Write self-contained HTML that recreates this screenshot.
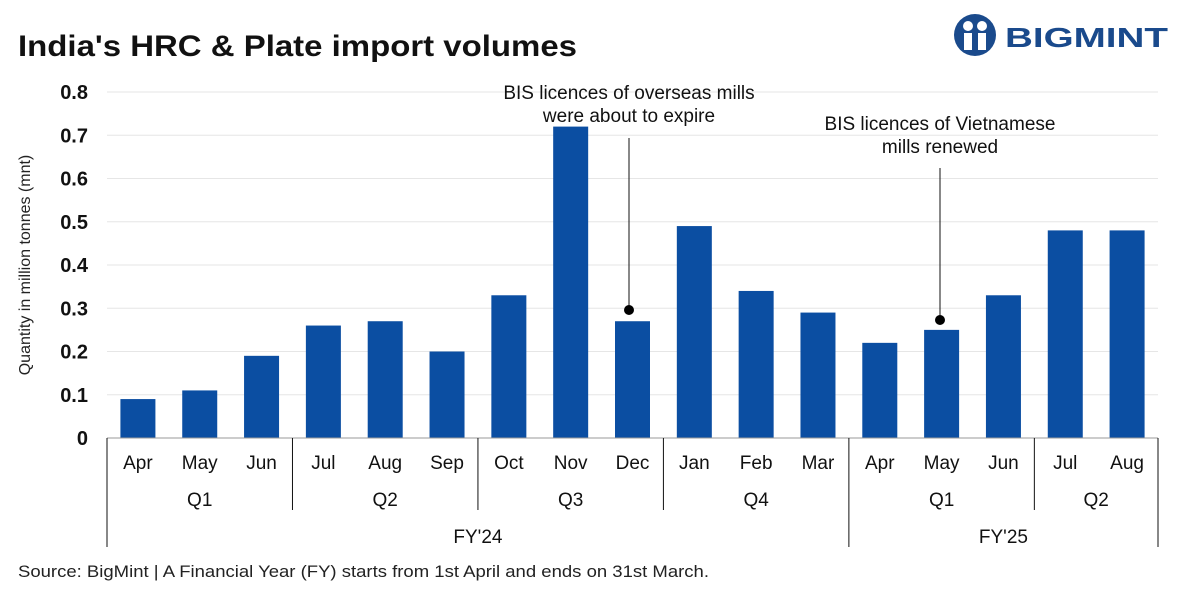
<!DOCTYPE html>
<html><head><meta charset="utf-8"><style>
html,body{margin:0;padding:0;background:#fff;}
svg{display:block;font-family:"Liberation Sans",sans-serif;}
</style></head><body>
<svg id="c" width="1181" height="591" viewBox="0 0 1181 591">
<text x="18" y="56" font-size="30" font-weight="bold" fill="#111" textLength="559" lengthAdjust="spacingAndGlyphs">India's HRC &amp; Plate import volumes</text>
<g>
<circle cx="975" cy="35" r="21" fill="#1a4a8c"/>
<circle cx="968" cy="26" r="5" fill="#fff"/><circle cx="982" cy="26" r="5" fill="#fff"/>
<rect x="964" y="33" width="8" height="17" fill="#fff"/><rect x="978" y="33" width="8" height="17" fill="#fff"/>
<text x="1005" y="47" font-size="28" font-weight="bold" fill="#1a4a8c" textLength="163" lengthAdjust="spacingAndGlyphs">BIGMINT</text>
</g>
<g id="grid"></g>
<g id="bars"></g>
<g id="xaxis"></g>
<text transform="translate(30,265) rotate(-90)" text-anchor="middle" font-size="16" fill="#222">Quantity in million tonnes (mnt)</text>
<g>
<text x="629" y="99" text-anchor="middle" font-size="19" fill="#111">BIS licences of overseas mills</text>
<text x="629" y="122" text-anchor="middle" font-size="19" fill="#111">were about to expire</text>
<line x1="629" y1="138" x2="629" y2="310" stroke="#111" stroke-width="1"/>
<circle cx="629" cy="310" r="5" fill="#000"/>
</g>
<g>
<text x="940" y="130" text-anchor="middle" font-size="19" fill="#111">BIS licences of Vietnamese</text>
<text x="940" y="153" text-anchor="middle" font-size="19" fill="#111">mills renewed</text>
<line x1="940" y1="168" x2="940" y2="320" stroke="#111" stroke-width="1"/>
<circle cx="940" cy="320" r="5" fill="#000"/>
</g>
<text x="18" y="577" font-size="17" fill="#222" textLength="691" lengthAdjust="spacingAndGlyphs">Source: BigMint | A Financial Year (FY) starts from 1st April and ends on 31st March.</text>
</svg>
<script>
const months=["Apr","May","Jun","Jul","Aug","Sep","Oct","Nov","Dec","Jan","Feb","Mar","Apr","May","Jun","Jul","Aug"];
const values=[0.09,0.11,0.19,0.26,0.27,0.20,0.33,0.72,0.27,0.49,0.34,0.29,0.22,0.25,0.33,0.48,0.48];
const quarters=[["Q1",3],["Q2",3],["Q3",3],["Q4",3],["Q1",3],["Q2",2]];
const years=[["FY'24",12],["FY'25",5]];
const yTicks=[0,0.1,0.2,0.3,0.4,0.5,0.6,0.7,0.8];
const NS="http://www.w3.org/2000/svg";
const L=107,R=1158,T=92,B=438,yMax=0.8;
const bw=(R-L)/months.length;
const y=v=>B-(v/yMax)*(B-T);
const xc=i=>L+bw*(i+0.5);
function mk(tag,attrs,parent,txt){const e=document.createElementNS(NS,tag);for(const k in attrs)e.setAttribute(k,attrs[k]);if(txt!==undefined)e.textContent=txt;parent.appendChild(e);return e;}
const g=document.getElementById('grid'),bg=document.getElementById('bars'),xg=document.getElementById('xaxis');
yTicks.forEach(t=>{
 if(t>0){const l=mk('line',{x1:L,x2:R,y1:y(t),y2:y(t),stroke:'#e6e6e6','stroke-width':1},g);
 
 }
 const tx=mk('text',{x:88,y:y(t)+7,'text-anchor':'end','font-size':20,'font-weight':'bold',fill:'#111'},g,String(t));
 
 
});
values.forEach((v,i)=>{
 const r=mk('rect',{x:xc(i)-17.5,y:y(v),width:35,height:B-y(v),fill:'#0b4ea2'},bg);
 
 
 const t=mk('text',{x:xc(i),y:469,'text-anchor':'middle','font-size':19,fill:'#111'},xg,months[i]);
 
 
});
mk('line',{x1:L,x2:R,y1:B,y2:B,stroke:'#999','stroke-width':1},xg);
let s=0;
mk('line',{x1:L,x2:L,y1:B,y2:547,stroke:'#111','stroke-width':1},xg);
quarters.forEach(([q,n])=>{
 const t=mk('text',{x:L+bw*(s+n/2),y:506,'text-anchor':'middle','font-size':19,fill:'#111'},xg,q);
 
 
 s+=n;mk('line',{x1:L+bw*s,x2:L+bw*s,y1:B,y2:(s==12||s==17)?547:510,stroke:'#111','stroke-width':1},xg);
});
s=0;
years.forEach(([f,n])=>{
 const t=mk('text',{x:L+bw*(s+n/2),y:543,'text-anchor':'middle','font-size':19,fill:'#111'},xg,f);
 
 
 s+=n;
});
</script>
</body></html>
